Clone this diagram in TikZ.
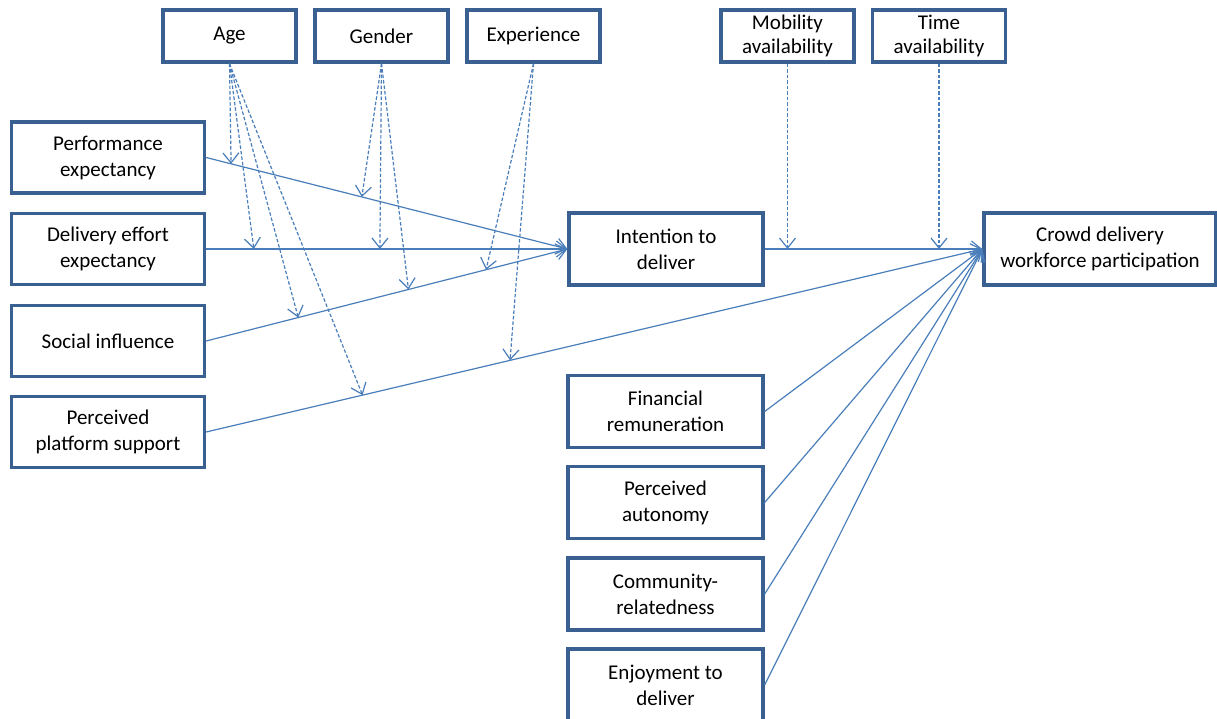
\documentclass[tikz,border=0pt]{standalone}
\usepackage{fontspec}
\setmainfont{Carlito}
\usetikzlibrary{arrows.meta}
\definecolor{boxc}{RGB}{58,96,145}
\definecolor{linec}{RGB}{74,126,187}
\begin{document}
\begin{tikzpicture}[x=1pt,y=-1pt,
  box/.style={draw=boxc, line width=3.3pt, fill=white, align=center,
    font=\fontsize{21}{26}\selectfont, inner sep=0pt},
  topbox/.style={box, minimum width=133pt, minimum height=52pt},
  leftbox/.style={box, minimum width=193pt, minimum height=71pt},
  rbox/.style={box, minimum width=195pt, minimum height=72pt},
  link/.style={draw=linec, line width=1.2pt,
    -{Straight Barb[length=10pt,width=16pt,line width=1.2pt]}},
  mod/.style={link, dash pattern=on 3.5pt off 2pt}]
\clip (0,0) rectangle (1217,719);
\fill[white] (0,0) rectangle (1217,719);

% nodes
\node[topbox] (age) at (229.5,36) {Age};
\node[topbox] (gen) at (381.5,36) {Gender};
\node[topbox] (exp) at (533.5,36) {Experience};
\node[topbox, font=\fontsize{21}{24}\selectfont] (mob) at (787.5,36) {Mobility\\availability};
\node[topbox, font=\fontsize{21}{24}\selectfont] (tim) at (939,36) {Time\\availability};

\node[leftbox] (perf) at (108,157.5) {Performance\\expectancy};
\node[leftbox] (eff) at (108,249) {Delivery effort\\expectancy};
\node[leftbox] (soc) at (108,341) {Social influence};
\node[leftbox] (plat) at (108,432) {Perceived\\platform support};

\node[rbox, minimum width=194pt] (int) at (666,249) {Intention to\\deliver};
\node[rbox, minimum width=232pt] (crowd) at (1100,249) {Crowd delivery\\workforce participation};

\node[rbox] (fin) at (665.5,411.5) {Financial\\remuneration};
\node[rbox] (aut) at (665.5,502.5) {Perceived\\autonomy};
\node[rbox] (com) at (665.5,594) {Community-\\relatedness};
\node[rbox] (enj) at (665.5,685) {Enjoyment to\\deliver};

% main paths
\draw[link] (perf.east) -- (int.west);
\draw[link] (eff.east) -- (int.west);
\draw[link] (soc.east) -- (int.west);
\draw[link] (plat.east) -- (crowd.west);
\draw[link] (int.east) -- (crowd.west);
\draw[link] (fin.east) -- (crowd.west);
\draw[link] (aut.east) -- (crowd.west);
\draw[link] (com.east) -- (crowd.west);
\draw[link] (enj.east) -- (crowd.west);

% moderation targets on the paths
\path (perf.east) -- (int.west) coordinate[pos=0.069] (pA) coordinate[pos=0.431] (pG);
\path (eff.east) -- (int.west) coordinate[pos=0.132] (eA) coordinate[pos=0.481] (eG);
\path (soc.east) -- (int.west) coordinate[pos=0.255] (sA) coordinate[pos=0.56] (sG) coordinate[pos=0.775] (sE);
\path (plat.east) -- (crowd.west) coordinate[pos=0.2015] (lA) coordinate[pos=0.3915] (lE);
\path (int.east) -- (crowd.west) coordinate[pos=0.113] (iM) coordinate[pos=0.798] (iT);

% moderators
\draw[mod] (age.south) -- (pA);
\draw[mod] (age.south) -- (eA);
\draw[mod] (age.south) -- (sA);
\draw[mod] (age.south) -- (lA);
\draw[mod] (gen.south) -- (pG);
\draw[mod] (gen.south) -- (eG);
\draw[mod] (gen.south) -- (sG);
\draw[mod] (exp.south) -- (sE);
\draw[mod] (exp.south) -- (lE);
\draw[mod] (mob.south) -- (mob.south |- iM);
\draw[mod] (tim.south) -- (tim.south |- iT);
\end{tikzpicture}
\end{document}
